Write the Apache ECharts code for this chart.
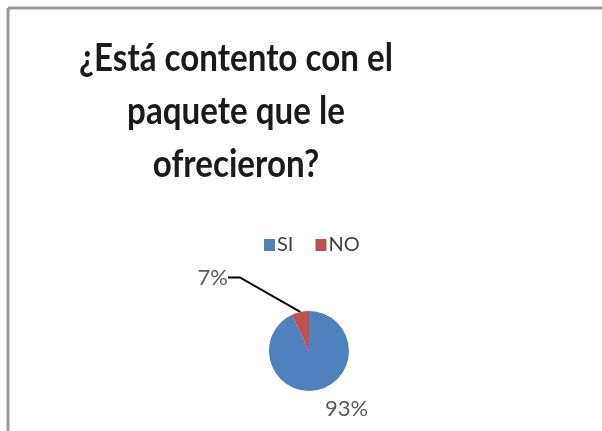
<!DOCTYPE html>
<html>
<head>
<meta charset="utf-8">
<script src="https://cdn.jsdelivr.net/npm/echarts@6/dist/echarts.min.js"></script>
<style>
  html, body { margin: 0; padding: 0; background: #fff; }
  #chart { width: 602px; height: 431px; }
</style>
</head>
<body>
<div id="chart"></div>
<script>
// datos del grafico
var categorias = ['SI', 'NO'];
var valores = [93, 7];
var colores = ['#4F81BD', '#C0504D'];
var titulo = '¿Está contento con el\npaquete que le\nofrecieron?';

var chart = echarts.init(document.getElementById('chart'));

var datos = [];
for (var i = 0; i < categorias.length; i++) {
    datos.push({
        name: categorias[i],
        value: valores[i],
        itemStyle: { color: colores[i] },
        labelLine: { show: i === 1 }
    });
}

var option = {
    backgroundColor: '#fff',
    animation: false,
    graphic: [
        // marco gris (izquierda y arriba)
        { type: 'line', shape: { x1: 8, y1: 8, x2: 8, y2: 431 }, style: { stroke: '#9a9a9a', lineWidth: 3 } },
        { type: 'line', shape: { x1: 8, y1: 8, x2: 602, y2: 8 }, style: { stroke: '#9a9a9a', lineWidth: 3 } },
        // titulo: letra alta y estrecha como en el original
        {
            type: 'text',
            x: 236,
            y: 32,
            scaleX: 0.85,
            style: {
                text: titulo,
                align: 'center',
                verticalAlign: 'top',
                fontFamily: 'Lato',
                fontWeight: 'bold',
                fontSize: 39,
                lineHeight: 53,
                fill: '#1a1a1a'
            }
        }
    ],
    legend: {
        data: categorias,
        left: 259,
        top: 230,
        itemWidth: 11,
        itemHeight: 12,
        itemGap: 22,
        icon: 'rect',
        textStyle: { fontFamily: 'Lato', fontSize: 20, color: '#404040', padding: [0, 0, 0, -3] }
    },
    series: [{
        type: 'pie',
        center: [309, 351],
        radius: 40,
        startAngle: 90,
        clockwise: true,
        data: datos,
        label: {
            show: true,
            formatter: '{c}%',
            fontFamily: 'Lato',
            fontSize: 22,
            color: '#595959'
        },
        labelLine: {
            length: 20,
            length2: 12,
            lineStyle: { color: '#000', width: 2 }
        },
        labelLayout: function (params) {
            var r = params.labelRect;
            if (params.dataIndex === 1) {
                // etiqueta 7% desplazada a la izquierda, con linea guia
                return { x: r.x - 51, y: r.y - 15, align: 'left', verticalAlign: 'top' };
            }
            return { dx: -14, dy: -1 };
        }
    }]
};

chart.setOption(option);
</script>
</body>
</html>
